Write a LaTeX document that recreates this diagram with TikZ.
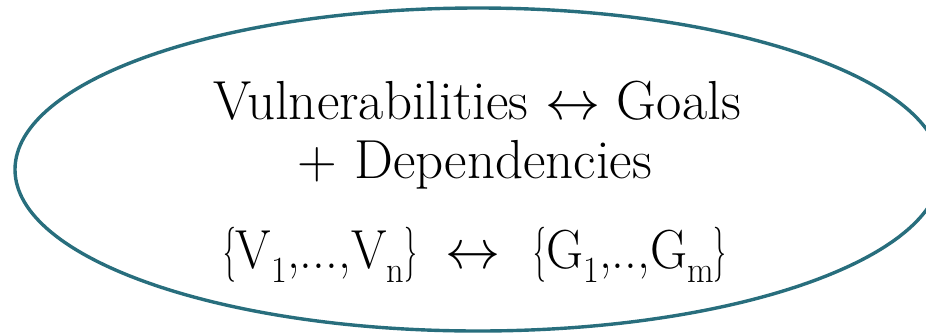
\documentclass[tikz,border=0pt]{standalone}
\usepackage{fix-cm}
\usepackage{fontspec}
\setmainfont{Latin Modern Roman}
\newcommand{\lowsub}[1]{\raisebox{-14pt}{\fontsize{37}{40}\selectfont #1}}
\newcommand{\nbl}{\scalebox{0.5}[1]{\{}}
\newcommand{\nbr}{\scalebox{0.5}[1]{\}}}
\definecolor{ringcol}{RGB}{40,110,125}
\begin{document}
\begin{tikzpicture}[x=1pt,y=-1pt,
  ring/.style={draw=ringcol,line width=3.4pt},
  txt/.style={inner sep=0pt,anchor=base,font=\fontsize{55}{60}\selectfont}]
\useasboundingbox (0,0) rectangle (926,333);
\draw[ring] (478,169.5) ellipse [x radius=463, y radius=161.5];
\node[txt] (l1) at (477,119) {Vulnerabilities $\leftrightarrow$ Goals};
\node[txt] (l2) at (475,178) {+ Dependencies};
\node[txt] (vset) at (320,268) {\scalebox{0.93}[1]{\nbl V\lowsub{1},...,V\lowsub{n}\nbr}};
\node[txt] (arr) at (473,268) {$\leftrightarrow$};
\node[txt] (gset) at (630,268) {\scalebox{0.93}[1]{\nbl G\lowsub{1},..,G\lowsub{m}\nbr}};
\end{tikzpicture}
\end{document}
